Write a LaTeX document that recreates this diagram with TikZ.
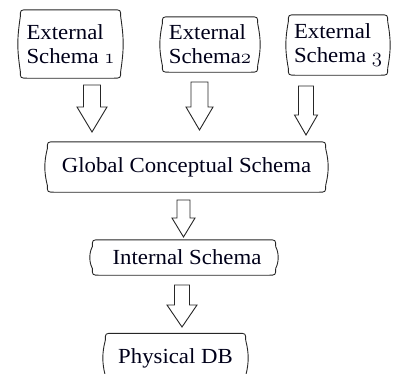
\documentclass[tikz,border=0pt]{standalone}
\usepackage{fontspec}
\setmainfont{Liberation Serif}[FakeStretch=1.06]
\usetikzlibrary{calc}
% old-style figures taken from the Computer Modern math italic font
\newcommand\osfig[1]{{\usefont{OML}{cmm}{m}{it}#1}}
\begin{document}
\begin{tikzpicture}[x=1pt,y=-1pt,
  boxline/.style={draw=black!85,line width=0.9pt},
  arrline/.style={draw=black!85,line width=0.9pt,fill=white,line join=miter},
  schema/.style={inner sep=0pt,align=left,text=black!90!blue,
    font=\fontsize{21.5}{24}\selectfont}]
\useasboundingbox (0,0) rectangle (396,373);
\clip (0,0) rectangle (396,373);

% outline of a box: rounded corners and sides that bow gently outwards
\newcommand\scrollbox[1]{%
  \draw[boxline] let \p1=(#1.north west), \p2=(#1.south east),
      \n1={(\y1+\y2)/2} in
    (\x1+10pt,\y1) -- (\x2-10pt,\y1)
    .. controls (\x2-2.5pt,\y1) .. (\x2-2.5pt,\y1-7pt)
    .. controls (\x2+0.8pt,\n1+5pt) and (\x2+0.8pt,\n1-5pt) .. (\x2-2.5pt,\y2+7pt)
    .. controls (\x2-2.5pt,\y2) .. (\x2-10pt,\y2)
    -- (\x1+10pt,\y2)
    .. controls (\x1+2.5pt,\y2) .. (\x1+2.5pt,\y2+7pt)
    .. controls (\x1-0.8pt,\n1-5pt) and (\x1-0.8pt,\n1+5pt) .. (\x1+2.5pt,\y1-7pt)
    .. controls (\x1+2.5pt,\y1) .. cycle;}

% hollow block arrow: centre x, top, start of head, tip, shaft half width, head half width
\newcommand\blockarr[6]{%
  \draw[arrline] ({#1-#5},#2) -- ({#1+#5},#2) -- ({#1+#5},#3) -- ({#1+#6},#3)
    -- (#1,#4) -- ({#1-#6},#3) -- ({#1-#5},#3) -- cycle;}

% boxes
\node[schema,minimum width=105pt,minimum height=68pt] (e1) at (70.5,44)
  {External\\Schema \osfig{1}};
\node[schema,minimum width=100pt,minimum height=55pt] (e2) at (210,44.5)
  {External\\Schema\osfig{2}};
\node[schema,minimum width=104pt,minimum height=60pt] (e3) at (338,45)
  {External\\Schema \osfig{3}};
\node[schema,minimum width=283pt,minimum height=50pt] (gcs) at (186.5,167)
  {Global Conceptual Schema};
\node[schema,minimum width=188pt,minimum height=35pt] (is) at (184,257.5)
  {\hspace*{6pt}Internal Schema};
\node[schema,minimum width=145pt,minimum height=49pt] (pdb) at (175.5,358)
  {Physical DB};

\scrollbox{e1}
\scrollbox{e2}
\scrollbox{e3}
\scrollbox{gcs}
\scrollbox{is}
\scrollbox{pdb}

% block arrows between the levels
\blockarr{92}{85}{107}{132}{8.5}{15}
\blockarr{199.5}{82}{107}{130}{8.5}{13.5}
\blockarr{306}{86}{115}{135}{7.5}{11.5}
\blockarr{183.5}{200}{218}{237}{6.5}{11.5}
\blockarr{182}{285}{305}{327}{7.5}{15}
\end{tikzpicture}
\end{document}
